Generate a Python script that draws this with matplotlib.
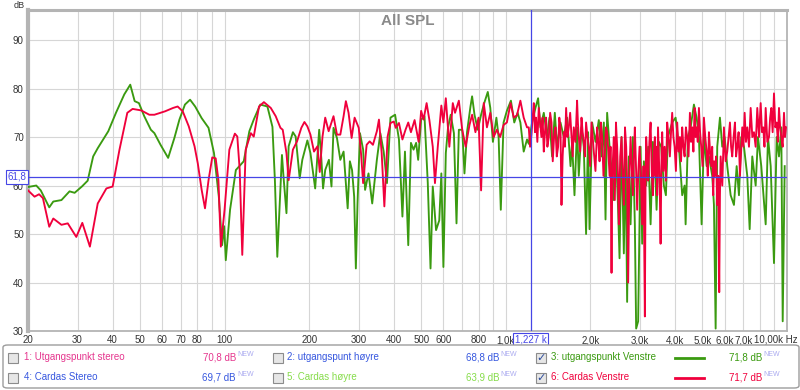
import numpy as np
import matplotlib.pyplot as plt
from matplotlib.patches import FancyBboxPatch, Rectangle
from matplotlib.transforms import blended_transform_factory

plt.rcParams['font.family'] = ['Liberation Sans', 'DejaVu Sans']

# 3: utgangspunkt Venstre
green_freq = [20, 21.4, 22.2, 23.8, 24.6, 26.3, 28.1, 29.3, 31.1, 32.6, 34.1, 35.4, 38.6, 41.1, 44.0, 46.2, 47.9, 49.6,
              51.8, 54.7, 56.3, 59.2, 63.0, 66.3, 69.1, 72.3, 75.4, 78.6, 82.9, 87.7, 91.7, 95.4, 98.0, 99.7, 101,
              104.6, 109.7, 117, 122.5, 127, 134, 142, 148, 151, 154, 160, 162, 166, 169, 175, 179, 185, 189, 197,
              202, 210, 217, 221, 224, 228, 235, 240, 244, 251, 258, 265, 274, 279, 284, 289, 293, 297, 303, 311,
              316, 325, 335, 348, 358, 368, 378, 389, 404, 417, 429, 438, 450, 460, 470, 480, 488, 500, 514, 528,
              540, 550, 565, 580, 590, 600, 612, 623, 637, 654, 668, 681, 700, 713, 728, 749, 759, 774, 795, 817,
              835, 863, 881, 900, 926, 943, 960, 982, 1009, 1043, 1072, 1102, 1127, 1158, 1190, 1207, 1240, 1275,
              1303, 1328, 1365, 1402, 1430, 1461, 1494, 1522, 1565, 1608, 1652, 1699, 1721, 1755, 1793, 1818, 1859,
              1894, 1930, 1962, 1985, 2028, 2085, 2142, 2190, 2232, 2263, 2293, 2339, 2389, 2422, 2456, 2509, 2538,
              2580, 2629, 2666, 2701, 2739, 2778, 2831, 2877, 2908, 2956, 3015, 3055, 3098, 3157, 3209, 3273, 3335,
              3409, 3437, 3503, 3569, 3649, 3710, 3771, 3906, 4017, 4127, 4240, 4324, 4360, 4443, 4542, 4667, 4771,
              4862, 4970, 5065, 5178, 5277, 5422, 5498, 5575, 5648, 5775, 5885, 6002, 6131, 6304, 6477, 6622, 6748,
              6876, 7030, 7223, 7366, 7525, 7737, 7885, 8101, 8398, 8558, 8750, 8989, 9190, 9365, 9544, 9654, 9813]
green_spl = [59.7, 60.0, 59.0, 55.5, 56.7, 57.0, 58.8, 58.5, 59.8, 61.0, 66.0, 67.7, 71.2, 75.0, 78.8, 80.8, 77.4, 77.0,
             74.3, 71.5, 70.8, 68.4, 65.7, 69.8, 73.6, 76.7, 77.7, 76.3, 73.9, 71.9, 66.7, 57.7, 47.7, 51.6, 44.6,
             55.0, 63.2, 65.0, 71.2, 73.6, 76.7, 76.3, 72.1, 61.1, 45.3, 66.3, 61.9, 54.3, 68.1, 71.0, 70.1, 61.5,
             65.3, 69.3, 66.7, 59.4, 71.5, 65.3, 59.4, 63.2, 65.3, 59.8, 71.9, 69.8, 65.3, 67.0, 55.3, 65.0, 63.2,
             57.7, 42.9, 56.3, 70.8, 67.4, 59.1, 62.5, 56.3, 65.3, 70.8, 67.0, 60.5, 74.0, 74.6, 69.5, 53.6, 67.0,
             47.7, 68.8, 67.4, 68.8, 65.3, 73.6, 74.3, 60.5, 42.9, 59.8, 50.8, 52.8, 62.5, 43.2, 66.7, 71.9, 74.6,
             70.8, 52.2, 71.5, 71.5, 62.5, 71.0, 76.3, 78.4, 74.6, 71.5, 74.6, 76.7, 79.3, 76.0, 69.0, 74.0, 70.0,
             55.0, 73.0, 75.4, 77.5, 73.0, 75.0, 73.0, 67.0, 69.5, 68.6, 73.0, 76.0, 78.0, 72.0, 75.0, 70.0, 74.0,
             66.0, 75.0, 68.0, 73.0, 70.0, 74.0, 64.0, 69.0, 58.0, 72.0, 62.0, 72.0, 68.0, 50.0, 71.0, 51.0, 73.0,
             69.0, 73.5, 66.0, 73.0, 53.0, 75.0, 68.0, 62.0, 57.0, 70.0, 55.0, 45.0, 70.0, 46.0, 68.0, 36.0, 66.0,
             52.0, 70.0, 52.0, 30.5, 32.0, 68.0, 48.0, 65.0, 60.0, 68.0, 52.0, 69.0, 61.0, 55.0, 69.0, 68.0, 60.0,
             58.0, 70.0, 73.0, 74.0, 68.0, 58.0, 60.0, 52.0, 70.0, 72.0, 76.7, 74.0, 70.0, 52.0, 70.0, 64.0, 66.0,
             62.0, 56.0, 30.5, 68.0, 74.0, 68.0, 70.0, 64.0, 58.0, 56.0, 64.0, 58.0, 70.0, 68.0, 62.0, 51.0, 66.0,
             60.0, 70.0, 64.0, 52.0, 70.0, 64.0, 44.0, 70.0, 66.0, 72.0, 32.0, 64.0]

# 6: Cardas Venstre
red_freq = [20, 21.1, 21.9, 22.6, 23.8, 24.6, 26.3, 27.7, 29.7, 31.2, 33.2, 35.4, 38.0, 40.0, 42.3, 45.1, 47.1, 50.5,
            54.0, 56.3, 61.4, 65.6, 68.1, 71.0, 74.6, 78.2, 80.3, 82.9, 85.2, 87.7, 90.4, 93.0, 95.1, 97.0, 100,
            104, 108.8, 111, 113.2, 115.6, 118.9, 124, 127, 132.6, 138, 146, 152, 158, 161, 166, 169, 175, 181,
            187.5, 192.3, 197, 202, 208, 214, 218, 223, 228, 234.5, 244, 251, 258, 265, 270, 276, 283, 290, 300,
            306, 311, 320, 328, 337, 348, 354, 362, 370, 380, 389, 400, 406, 417, 429, 440, 450, 460, 474, 490,
            500, 510, 523, 535, 550, 560, 573, 590, 600, 612, 630, 648, 660, 681, 700, 720, 743, 759, 780, 800,
            817, 835, 857, 881, 905, 930, 955, 982, 1009, 1040, 1068, 1096, 1127, 1158, 1190,
            1207, 1220, 1234, 1246, 1258, 1270, 1281, 1295, 1310, 1325, 1339, 1352, 1365, 1378, 1391, 1406, 1422,
            1438, 1454, 1462, 1469, 1485, 1502, 1518, 1535, 1550, 1565, 1571, 1578, 1593, 1608, 1623, 1639, 1657,
            1675, 1694, 1713, 1729, 1745, 1769, 1793, 1805, 1818, 1838, 1859, 1876, 1894, 1912, 1930, 1952, 1974,
            1996, 2018, 2037, 2056, 2084, 2113, 2134, 2155, 2178, 2201, 2225, 2250, 2271, 2293, 2316, 2339, 2358,
            2377, 2390, 2403, 2422, 2442, 2465, 2489, 2506, 2524, 2552, 2580, 2604, 2629, 2654, 2680, 2702, 2724,
            2751, 2778, 2804, 2831, 2854, 2877, 2904, 2932, 2961, 2990, 3022, 3055, 3089, 3123, 3140, 3157, 3183,
            3209, 3241, 3273, 3304, 3335, 3362, 3390, 3409, 3432, 3454, 3478, 3503, 3527, 3552, 3575, 3599, 3634,
            3670, 3709, 3749, 3791, 3833, 3869, 3906, 3945, 3984, 4027, 4070, 4115, 4161, 4200, 4240, 4282, 4324,
            4370, 4417, 4466, 4516, 4559, 4602, 4647, 4693, 4732, 4771, 4816, 4862, 4908, 4954, 5009, 5065, 5121,
            5178, 5227, 5277, 5327, 5377, 5421, 5466, 5504, 5543, 5595, 5648, 5695, 5742, 5775, 5808, 5887, 5967,
            6049, 6131, 6199, 6268, 6327, 6387, 6458, 6530, 6592, 6654, 6728, 6803, 6868, 6933, 7001, 7070, 7146,
            7223, 7325, 7427, 7528, 7630, 7735, 7840, 7950, 8061, 8148, 8235, 8316, 8398, 8513, 8629, 8711, 8793,
            8891, 8989, 9089, 9190, 9277, 9365, 9454, 9544, 9650, 9757, 9837, 9918]
red_spl = [59.0, 57.7, 58.2, 57.4, 51.5, 53.2, 51.9, 52.2, 49.4, 52.3, 47.4, 56.3, 59.4, 59.8, 67.4, 75.0, 75.8, 75.5,
           74.6, 74.6, 75.3, 76.0, 76.3, 75.3, 72.2, 68.1, 64.6, 59.1, 55.3, 61.1, 65.8, 65.6, 61.1, 47.4, 55.0,
           67.4, 70.7, 70.1, 63.2, 45.7, 67.4, 70.8, 70.1, 76.3, 77.2, 76.0, 74.3, 71.9, 71.5, 66.7, 61.1, 67.4, 69.1,
           71.9, 73.1, 72.2, 70.5, 67.0, 68.1, 62.8, 70.1, 74.0, 71.2, 74.3, 70.5, 70.5, 74.3, 77.4, 75.0, 69.8,
           74.0, 71.9, 66.3, 60.5, 68.4, 69.1, 68.4, 71.2, 73.6, 66.7, 55.7, 70.1, 72.9, 73.2, 71.9, 72.9, 69.5,
           71.5, 73.0, 71.0, 73.5, 69.0, 75.4, 73.6, 77.0, 73.5, 68.0, 60.5, 68.0, 76.5, 73.0, 78.0, 68.0, 77.0,
           75.0, 77.5, 71.5, 68.0, 72.5, 74.6, 71.0, 74.0, 59.0, 77.0, 72.0, 75.0, 70.0, 71.5, 70.0, 72.5, 73.0,
           77.0, 74.0, 74.5, 77.5, 74.0, 72.0,
           72, 68, 70.5, 74, 77, 71, 74, 69, 76, 73, 70, 74, 67, 71, 74, 68, 70,
           75, 73, 69, 65, 70, 72, 66, 68, 74, 72, 64, 56, 66, 71, 68, 76, 70,
           72, 75, 70, 66, 72, 69, 77.5, 73, 70, 67, 74, 71, 69, 66, 73, 70, 68,
           64, 73, 70, 67, 63, 72, 69, 65, 73, 70, 62, 66, 72, 71, 67, 62, 68,
           42, 60, 65, 70, 57, 73, 68, 62, 52, 66, 70, 62, 56, 72, 68, 60, 40,
           62, 70, 64, 58, 66, 72, 64, 55, 63, 68, 62, 52, 64, 33, 60, 70, 66,
           61, 69, 73, 63, 58, 67, 70, 62, 68, 58, 72, 66, 60, 48, 64, 71, 63,
           68, 61, 73, 70, 66, 71, 75, 70, 68, 63, 73, 67, 70, 65, 72, 68, 66,
           72, 70, 66, 75, 69, 72, 67, 76, 70, 72, 69, 76, 71, 68, 64, 74, 70,
           67, 62, 71, 67, 64, 68, 58, 65, 62, 66, 56, 62, 38, 58, 66, 60, 72,
           65, 67, 70, 73, 68, 66, 70, 73, 66, 68, 71, 62, 67, 72, 68, 75, 69,
           72, 68, 76, 70, 71, 68, 76, 70, 77, 71, 72, 68, 76, 69, 70, 74, 76,
           71, 79, 72, 73, 69, 76, 72, 70, 68, 75, 70, 72]

cursor_freq = 1227
cursor_spl = 61.8

y_ticks = [30, 40, 50, 60, 70, 80, 90]
x_grid = [20, 30, 40, 50, 60, 70, 80, 90, 100, 200, 300, 400, 500, 600, 700, 800, 900,
          1000, 2000, 3000, 4000, 5000, 6000, 7000, 8000, 9000, 10000]
x_names = {20: '20', 30: '30', 40: '40', 50: '50', 60: '60', 70: '70', 80: '80', 100: '100',
           200: '200', 300: '300', 400: '400', 500: '500', 600: '600', 800: '800', 1000: '1,0k',
           2000: '2,0k', 3000: '3,0k', 4000: '4,0k', 5000: '5,0k', 6000: '6,0k', 7000: '7,0k'}

legend_names = ['1: Utgangspunkt stereo', '2: utgangspunt høyre', '3: utgangspunkt Venstre',
                '4: Cardas Stereo', '5: Cardas høyre', '6: Cardas Venstre']
legend_values = ['70,8', '68,8', '71,8', '69,7', '63,9', '71,7']
legend_colors = ['#e5368e', '#3657df', '#3a9a10', '#3657df', '#86dc4a', '#f0003c']
legend_checked = [False, False, True, False, False, True]

green = '#3a9a10'
red = '#f0003c'
blue = '#4646e6'

W, H = 800, 390
fig = plt.figure(figsize=(W / 100, H / 100), dpi=100)
fig.patch.set_facecolor('white')
ax = fig.add_axes([28 / W, 1 - 331 / H, (787 - 28) / W, (331 - 10) / H])

ax.plot(green_freq, green_spl, color=green, lw=1.35, zorder=3)
ax.plot(red_freq, red_spl, color=red, lw=1.35, zorder=4)
ax.axhline(cursor_spl, color=blue, lw=0.9, zorder=5)
ax.axvline(cursor_freq, color=blue, lw=0.9, zorder=5)

ax.set_xscale('log')
ax.set_xlim(20, 10000)
ax.set_ylim(30, 96.2)
ax.set_xticks(x_grid)
ax.set_xticklabels([x_names.get(f, '') for f in x_grid])
ax.xaxis.set_minor_locator(plt.NullLocator())
ax.set_yticks(y_ticks)
ax.tick_params(length=0, labelsize=7, colors='#333333')
ax.tick_params(axis='x', pad=3)
ax.tick_params(axis='y', pad=3)
ax.grid(True, color='#d6d6d6', lw=0.8, zorder=0)
ax.set_axisbelow(True)
for s in ax.spines.values():
    s.set_color('#b4b4b4')
    s.set_linewidth(1.3)
ax.spines['left'].set_linewidth(3)
ax.spines['top'].set_linewidth(2.2)

ax.text(0.5, 0.988, 'All SPL', transform=ax.transAxes, ha='center', va='top',
        fontsize=11, fontweight='bold', color='#8a8a8a')
fig.text(19 / W, 1 - 5 / H, 'dB', ha='center', va='center', fontsize=6.5, color='#333333')
fig.text(798 / W, 1 - 339 / H, '10,00k Hz', ha='right', va='center', fontsize=7, color='#333333')

# cursor readouts
tr = blended_transform_factory(fig.transFigure, ax.transData)
fig.text(17 / W, cursor_spl, '61,8', transform=tr, ha='center', va='center', fontsize=7, color=blue,
         bbox=dict(boxstyle='square,pad=0.2', fc='white', ec=blue, lw=0.8))
tr = blended_transform_factory(ax.transData, fig.transFigure)
ax.text(cursor_freq, 1 - 339 / H, '1,227 k', transform=tr, ha='center', va='center', fontsize=7, color=blue,
        bbox=dict(boxstyle='square,pad=0.15', fc='white', ec=blue, lw=0.8), zorder=10, clip_on=False)

# legend panel
fig.patches.append(FancyBboxPatch((3 / W, 1 - 388 / H), 796 / W, 43 / H, boxstyle='round,pad=0,rounding_size=0.006',
                                  transform=fig.transFigure, fc='white', ec='#9c9c9c', lw=1))
col_box = [12.8, 277.7, 540.7]
col_text = [24, 287, 551]
col_val = [236, 499, 762]
row_y = [357.5, 377.5]
for i in range(6):
    r, c = i // 3, i % 3
    y = row_y[r]
    fig.patches.append(Rectangle(((col_box[c] - 5) / W, 1 - (y + 5) / H), 10 / W, 10 / H,
                                 transform=fig.transFigure, fc='#e6e6e6', ec='#8c8c8c', lw=0.8))
    if legend_checked[i]:
        fig.text(col_box[c] / W, 1 - y / H, '✓', ha='center', va='center', fontsize=8, color='#2c4c9c')
    fig.text(col_text[c] / W, 1 - y / H, legend_names[i], ha='left', va='center', fontsize=7,
             color=legend_colors[i])
    fig.text(col_val[c] / W, 1 - y / H, legend_values[i] + ' dB', ha='right', va='center', fontsize=7,
             color=legend_colors[i])
    fig.text((col_val[c] + 1) / W, 1 - (y - 3) / H, 'NEW', ha='left', va='center', fontsize=5,
             color='#aaaaf0')
    if legend_checked[i]:
        fig.lines.append(plt.Line2D([675 / W, 704 / W], [1 - y / H, 1 - y / H], transform=fig.transFigure,
                                    color=legend_colors[i], lw=2))

fig.savefig('out.png', dpi=100)
